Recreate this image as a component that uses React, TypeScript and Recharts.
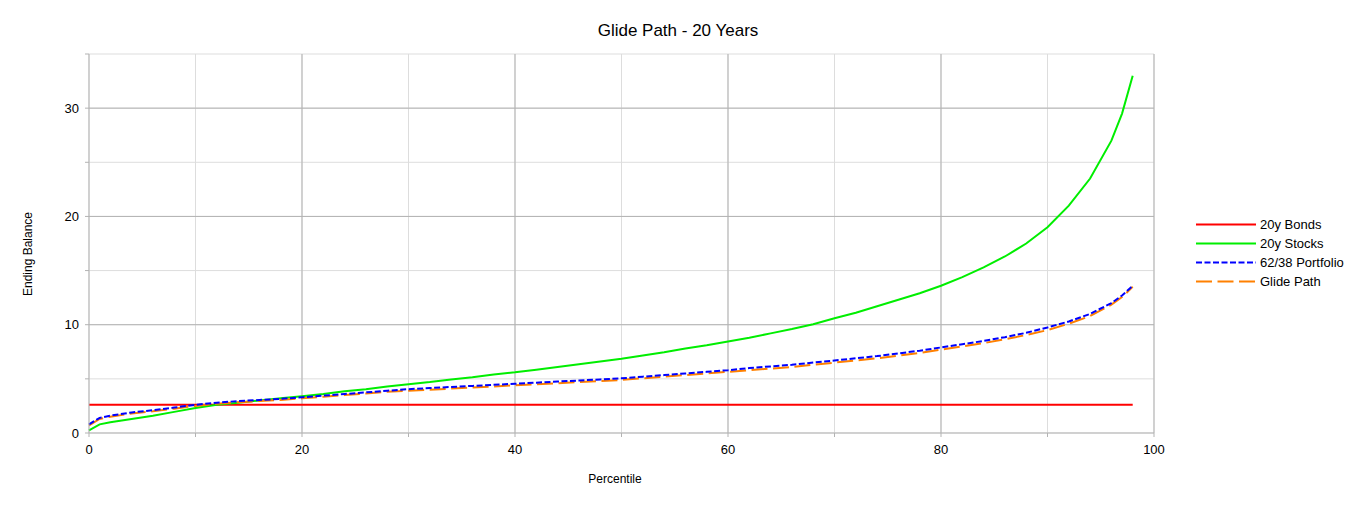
import React from 'react';
import { LineChart, Line, XAxis, YAxis, CartesianGrid, ReferenceLine } from 'recharts';

const PERCENTILES = [0, 1, 2, 4, 6, 8, 10, 12, 14, 16, 18, 20, 22, 24, 26, 28, 30, 32, 34, 36, 38, 40, 42, 44, 46, 48, 50, 52, 54, 56, 58, 60, 62, 64, 66, 68, 70, 72, 74, 76, 78, 80, 82, 84, 86, 88, 90, 92, 94, 96, 97, 98];

const BONDS = [2.6, 2.6, 2.6, 2.6, 2.6, 2.6, 2.6, 2.6, 2.6, 2.6, 2.6, 2.6, 2.6, 2.6, 2.6, 2.6, 2.6, 2.6, 2.6, 2.6, 2.6, 2.6, 2.6, 2.6, 2.6, 2.6, 2.6, 2.6, 2.6, 2.6, 2.6, 2.6, 2.6, 2.6, 2.6, 2.6, 2.6, 2.6, 2.6, 2.6, 2.6, 2.6, 2.6, 2.6, 2.6, 2.6, 2.6, 2.6, 2.6, 2.6, 2.6, 2.6];

const STOCKS = [0.25, 0.8, 1.0, 1.3, 1.6, 1.95, 2.3, 2.6, 2.8, 3.0, 3.2, 3.4, 3.6, 3.85, 4.05, 4.3, 4.5, 4.7, 4.95, 5.15, 5.4, 5.6, 5.85, 6.1, 6.35, 6.6, 6.85, 7.15, 7.45, 7.8, 8.1, 8.45, 8.8, 9.2, 9.6, 10.05, 10.6, 11.1, 11.7, 12.3, 12.9, 13.6, 14.4, 15.3, 16.3, 17.5, 19.0, 21.0, 23.5, 27.0, 29.5, 33.0];

const PORTFOLIO = [0.8, 1.4, 1.6, 1.9, 2.1, 2.35, 2.6, 2.8, 2.95, 3.05, 3.15, 3.3, 3.45, 3.6, 3.75, 3.9, 4.05, 4.15, 4.25, 4.35, 4.45, 4.55, 4.65, 4.75, 4.85, 4.95, 5.05, 5.2, 5.35, 5.5, 5.65, 5.8, 6.0, 6.15, 6.3, 6.5, 6.7, 6.9, 7.1, 7.35, 7.6, 7.9, 8.2, 8.5, 8.85, 9.25, 9.75, 10.3, 11.0, 12.0, 12.7, 13.6];

const GLIDE = [0.7, 1.3, 1.5, 1.8, 2.0, 2.25, 2.5, 2.7, 2.85, 2.95, 3.05, 3.2, 3.35, 3.5, 3.65, 3.8, 3.9, 4.0, 4.1, 4.2, 4.3, 4.4, 4.5, 4.6, 4.7, 4.8, 4.9, 5.05, 5.2, 5.35, 5.5, 5.65, 5.8, 5.95, 6.1, 6.3, 6.5, 6.7, 6.9, 7.15, 7.4, 7.7, 8.0, 8.3, 8.65, 9.05, 9.5, 10.1, 10.8, 11.85, 12.55, 13.5];

const X_TICKS = [0, 10, 20, 30, 40, 50, 60, 70, 80, 90, 100];
const X_MAJOR = [20, 40, 60, 80, 100];
const Y_TICKS = [0, 5, 10, 15, 20, 25, 30, 35];
const Y_MAJOR = [10, 20, 30];

const TITLE = 'Glide Path - 20 Years';
const X_LABEL = 'Percentile';
const Y_LABEL = 'Ending Balance';

const SERIES = [
  { key: 'bonds', name: '20y Bonds', color: '#ff0000', dash: undefined as string | undefined },
  { key: 'stocks', name: '20y Stocks', color: '#00ee00', dash: undefined as string | undefined },
  { key: 'portfolio', name: '62/38 Portfolio', color: '#0000ff', dash: '6 2.5' },
  { key: 'glide', name: 'Glide Path', color: '#ff8000', dash: '16 5.5' },
];
const DRAW_ORDER = ['bonds', 'stocks', 'glide', 'portfolio'];

const data = PERCENTILES.map((p, i) => ({
  p,
  bonds: BONDS[i],
  stocks: STOCKS[i],
  portfolio: PORTFOLIO[i],
  glide: GLIDE[i],
}));

const FONT = '"Liberation Sans", Arial, sans-serif';
const MAJOR = '#b3b3b3';
const MINOR = '#dddddd';

export default function App() {
  return (
    <div style={{ position: 'fixed', left: 0, top: 0, width: 1357, height: 506, background: '#fff' }}>
      <LineChart
        width={1357}
        height={506}
        data={data}
        margin={{ top: 54, right: 203, bottom: 43, left: 29 }}
      >
        <CartesianGrid stroke={MINOR} strokeWidth={1} />
        {X_MAJOR.map((v) => (
          <ReferenceLine key={'x' + v} x={v} stroke={MAJOR} strokeWidth={1} />
        ))}
        {Y_MAJOR.map((v) => (
          <ReferenceLine key={'y' + v} y={v} stroke={MAJOR} strokeWidth={1} />
        ))}
        <XAxis
          type="number"
          dataKey="p"
          domain={[0, 100]}
          ticks={X_TICKS}
          interval={0}
          height={30}
          tickSize={4}
          tickMargin={8}
          stroke={MAJOR}
          tick={{ fill: '#000', fontSize: 13, fontFamily: FONT }}
          tickFormatter={(v: number) => (v % 20 === 0 ? String(v) : '')}
        />
        <YAxis
          type="number"
          domain={[0, 35]}
          ticks={Y_TICKS}
          interval={0}
          width={60}
          tickSize={4}
          tickMargin={6}
          stroke={MAJOR}
          tick={{ fill: '#000', fontSize: 13, fontFamily: FONT }}
          tickFormatter={(v: number) => (v % 10 === 0 ? String(v) : '')}
        />
        {DRAW_ORDER.map((k) => {
          const s = SERIES.find((x) => x.key === k)!;
          return (
            <Line
              key={s.key}
              type="linear"
              dataKey={s.key}
              name={s.name}
              stroke={s.color}
              strokeWidth={2}
              strokeDasharray={s.dash}
              dot={false}
              activeDot={false}
              isAnimationActive={false}
            />
          );
        })}
      </LineChart>
      <svg width={1357} height={506} style={{ position: 'absolute', left: 0, top: 0, pointerEvents: 'none' }}>
        <text x={678} y={36} textAnchor="middle" fontSize={17} fontFamily={FONT} fill="#000">{TITLE}</text>
        <text x={615} y={483} textAnchor="middle" fontSize={12} fontFamily={FONT} fill="#000">{X_LABEL}</text>
        <text
          x={32}
          y={254}
          textAnchor="middle"
          fontSize={12}
          fontFamily={FONT}
          fill="#000"
          transform="rotate(-90 32 254)"
        >
          {Y_LABEL}
        </text>
        {SERIES.map((s, i) => {
          const y = 224.5 + i * 19;
          return (
            <g key={s.key}>
              <line x1={1196} x2={1256} y1={y} y2={y} stroke={s.color} strokeWidth={2} strokeDasharray={s.dash} />
              <text x={1260} y={y + 4.5} fontSize={13} fontFamily={FONT} fill="#000">{s.name}</text>
            </g>
          );
        })}
      </svg>
    </div>
  );
}
